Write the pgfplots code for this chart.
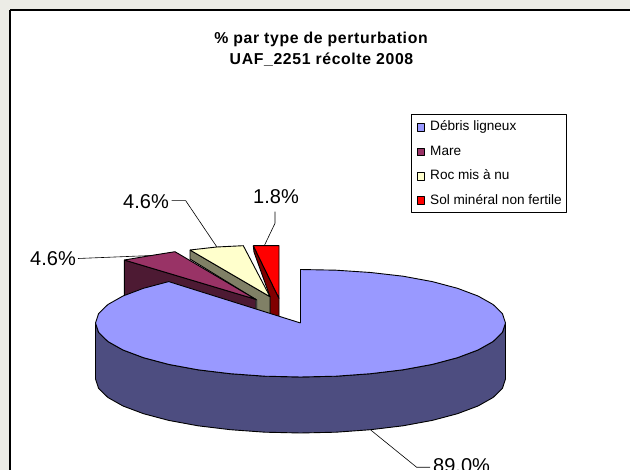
\documentclass[border=0pt]{standalone}
\usepackage{pgfplots}
\pgfplotsset{compat=1.18}
\usepackage{fontspec}
\setmainfont{Liberation Sans}
\newfontfamily\titlefont[LetterSpace=4]{Liberation Sans}
\definecolor{bg}{HTML}{ECECE6}
\definecolor{cBlue}{HTML}{9999FF}
\definecolor{sBlue}{HTML}{4D4D80}
\definecolor{cMare}{HTML}{993366}
\definecolor{sMare}{HTML}{4D1A33}
\definecolor{cRoc}{HTML}{FFFFCC}
\definecolor{sRoc}{HTML}{808066}
\definecolor{cSol}{HTML}{FF0000}
\definecolor{sSol}{HTML}{800000}
\begin{document}
\begin{tikzpicture}[x=1pt,y=1pt]
\clip (0,0) rectangle (630,470);
\begin{axis}[
  at={(0,0)}, anchor=south west,
  scale only axis, width=630pt, height=470pt,
  xmin=0, xmax=630, ymin=0, ymax=470,
  y dir=reverse, hide axis, clip=false,
  every axis plot/.append style={line join=round, line width=0.9pt},
]
% frame
\addplot[fill=bg, draw=none] coordinates {(0,0)(630,0)(630,470)(0,470)(0,0)};
\addplot[fill=white, draw=black, line width=1.2pt] coordinates {(10,10)(650,10)(650,490)(10,490)(10,10)};
% Sol mineral
\addplot[fill=sSol, draw=black] coordinates {(253.3,245.7)(254,252)(270,296.7)(270,316)(279,319)(279,298.3)(253.3,245.7)};
\addplot[fill=cSol, draw=black] coordinates {(253.3,245.7)(279,245.7)(279,298.3)(253.3,245.7)};
% Roc
\addplot[fill=sRoc, draw=black] coordinates {(190,250)(190,259)(256.7,300)(256.7,310.7)(270,314)(270,296.7)(190,250)};
\addplot[fill=cRoc, draw=black] coordinates {(190,250)(216.7,247)(243.3,245.7)(270,296.7)(190,250)};
% Mare
\addplot[fill=sMare, draw=black] coordinates {(124.3,260)(124.3,300)(168.7,290)(255.7,312)(255.7,299.3)(124.3,260)};
\addplot[fill=cMare, draw=black] coordinates {(124.3,260)(150,255.7)(175,251.7)(255.7,299.3)(124.3,260)};
% Debris: side
\addplot[fill=sBlue, draw=black] coordinates {
 (95.5,323)(98.6,332.4)(107.9,341.5)(123,350)(143.5,357.7)(168.7,364.4)(198,369.8)(230.4,373.7)(264.9,376.2)(300.5,377)
 (336.1,376.2)(370.6,373.7)(403,369.8)(432.3,364.4)(457.5,357.7)(478,350)(493.1,341.5)(502.4,332.4)(505.5,323)
 (505.5,379)(502.4,388.4)(493.1,397.5)(478,406)(457.5,413.7)(432.3,420.4)(403,425.8)(370.6,429.7)(336.1,432.2)(300.5,433)
 (264.9,432.2)(230.4,429.7)(198,425.8)(168.7,420.4)(143.5,413.7)(123,406)(107.9,397.5)(98.6,388.4)(95.5,379)(95.5,323)};
% Debris: top
\addplot[fill=cBlue, draw=black] coordinates {
 (300.5,323)(300.5,269.5)(336.1,270.2)(370.6,272.5)(403,276.2)(432.3,281.6)(457.5,288.3)(478,296)(493.1,304.5)(502.4,313.6)(505.5,323)
 (502.4,332.4)(493.1,341.5)(478,350)(457.5,357.7)(432.3,364.4)(403,369.8)(370.6,373.7)(336.1,376.2)(300.5,377)
 (264.9,376.2)(230.4,373.7)(198,369.8)(168.7,364.4)(143.5,357.7)(123,350)(107.9,341.5)(98.6,332.4)(95.5,323)
 (98.6,313.6)(107.9,304.5)(123,296)(143.5,288.3)(168.7,281.6)(300.5,323)};
% leaders
\addplot[draw=black, line width=0.6pt] coordinates {(78,258.5)(152,255.5)};
\addplot[draw=black, line width=0.6pt] coordinates {(171.7,200.7)(185.7,200.7)(216.7,246.7)};
\addplot[draw=black, line width=0.6pt] coordinates {(275,211.7)(275,223.3)(264.3,245.7)};
\addplot[draw=black, line width=0.6pt] coordinates {(370.7,430)(416.7,467.3)(430,467.3)};
% labels
\node[anchor=base west, inner sep=0, font=\fontsize{20}{24}\selectfont] at (axis cs:30,266) {4.6\%};
\node[anchor=base west, inner sep=0, font=\fontsize{20}{24}\selectfont] at (axis cs:123,208.5) {4.6\%};
\node[anchor=base west, inner sep=0, font=\fontsize{20}{24}\selectfont] at (axis cs:253,203.5) {1.8\%};
\node[anchor=base west, inner sep=0, font=\fontsize{20}{24}\selectfont] at (axis cs:433,472.3) {89.0\%};
% title
\node[anchor=base, inner sep=0, font=\titlefont\bfseries\fontsize{15.8}{18}\selectfont] at (axis cs:321,43.3) {\% par type de perturbation};
\node[anchor=base, inner sep=0, font=\titlefont\bfseries\fontsize{15.8}{18}\selectfont] at (axis cs:321.5,64.7) {UAF\_2251 récolte 2008};
% legend
\addplot[fill=white, draw=black, line width=0.9pt] coordinates {(411.7,114.3)(566,114.3)(566,212.3)(411.7,212.3)(411.7,114.3)};
\addplot[fill=cBlue, draw=black] coordinates {(417,123.5)(424,123.5)(424,131)(417,131)(417,123.5)};
\addplot[fill=cMare, draw=black] coordinates {(417,148.3)(424,148.3)(424,155.8)(417,155.8)(417,148.3)};
\addplot[fill=cRoc, draw=black] coordinates {(417,172.7)(424,172.7)(424,180)(417,180)(417,172.7)};
\addplot[fill=cSol, draw=black] coordinates {(417,196.8)(424,196.8)(424,204.3)(417,204.3)(417,196.8)};
\node[anchor=base west, inner sep=0, font=\fontsize{13.6}{16}\selectfont] at (axis cs:430,131) {Débris ligneux};
\node[anchor=base west, inner sep=0, font=\fontsize{13.6}{16}\selectfont] at (axis cs:430,156) {Mare};
\node[anchor=base west, inner sep=0, font=\fontsize{13.6}{16}\selectfont] at (axis cs:430,180) {Roc mis à nu};
\node[anchor=base west, inner sep=0, font=\fontsize{13.6}{16}\selectfont] at (axis cs:430,204.3) {Sol minéral non fertile};
\end{axis}
\end{tikzpicture}
\end{document}
